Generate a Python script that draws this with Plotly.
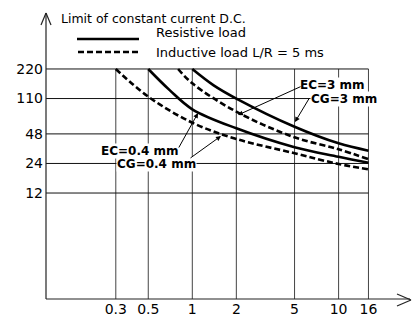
import plotly.graph_objects as go

# ---- data ----
x_ticks = [0.3, 0.5, 1, 2, 5, 10, 16]
x_tick_labels = ["0.3", "0.5", "1", "2", "5", "10", "16"]
y_ticks = [12, 24, 48, 110, 220]
y_tick_labels = ["12", "24", "48", "110", "220"]

# Resistive load (solid)
res_04_x = [0.5, 0.7, 1, 2, 5, 10, 16]
res_04_y = [220, 134, 85.5, 54.7, 35.1, 28.1, 24.4]
res_3_x = [1, 1.4, 2, 5, 10, 16]
res_3_y = [220, 150, 110, 56.8, 38.5, 32.4]
# Inductive load L/R = 5 ms (dashed)
ind_04_x = [0.3, 0.5, 1, 2, 5, 10, 16]
ind_04_y = [220, 115, 62.4, 42.6, 30.5, 23.7, 20.9]
ind_3_x = [0.8, 1, 2, 5, 10, 16]
ind_3_y = [220, 157, 80.8, 44.3, 33.5, 26.5]

FONT = "DejaVu Sans"
W, H = 414, 320
L, R, T, B = 46, 2, 13, 21
pw, ph = W - L - R, H - T - B
XPD, YPD = 146.3, 98.2  # pixels per decade
x_range = [-1, -1 + pw / XPD]
y_range = [0, ph / YPD]

def px(X):
    return (X - L) / pw

def py(Y):
    return (H - B - Y) / ph

fig = go.Figure()
line_w = 2.6
fig.add_trace(go.Scatter(x=res_04_x, y=res_04_y, mode="lines",
                         line=dict(color="black", width=line_w, shape="spline", smoothing=1.0),
                         name="Resistive load", showlegend=False))
fig.add_trace(go.Scatter(x=res_3_x, y=res_3_y, mode="lines",
                         line=dict(color="black", width=line_w, shape="spline", smoothing=1.0),
                         showlegend=False))
fig.add_trace(go.Scatter(x=ind_04_x, y=ind_04_y, mode="lines",
                         line=dict(color="black", width=line_w, shape="spline", smoothing=1.0, dash="6px,3px"),
                         name="Inductive load L/R = 5 ms", showlegend=False))
fig.add_trace(go.Scatter(x=ind_3_x, y=ind_3_y, mode="lines",
                         line=dict(color="black", width=line_w, shape="spline", smoothing=1.0, dash="6px,3px"),
                         showlegend=False))

shapes = []
# grid (within the box 0.1..16 x 1..220)
for xv in x_ticks:
    shapes.append(dict(type="line", xref="x", yref="y", x0=xv, x1=xv, y0=1, y1=max(y_ticks),
                       line=dict(color="#444", width=1), layer="below"))
for yv in y_ticks:
    shapes.append(dict(type="line", xref="x", yref="y", x0=0.1, x1=max(x_ticks), y0=yv, y1=yv,
                       line=dict(color="#111", width=1), layer="below"))
# axes with arrows
ax_line = dict(color="#222", width=1.2)
shapes += [
    dict(type="line", xref="paper", yref="paper", x0=0, x1=0, y0=0, y1=1, line=ax_line),
    dict(type="line", xref="paper", yref="paper", x0=px(41), x1=0, y0=py(25), y1=1, line=ax_line),
    dict(type="line", xref="paper", yref="paper", x0=px(51), x1=0, y0=py(25), y1=1, line=ax_line),
    dict(type="line", xref="paper", yref="paper", x0=0, x1=px(410), y0=0, y1=0, line=ax_line),
    dict(type="line", xref="paper", yref="paper", x0=px(397), x1=px(411), y0=py(294), y1=py(300), line=ax_line),
    dict(type="line", xref="paper", yref="paper", x0=px(397), x1=px(411), y0=py(306), y1=py(300), line=ax_line),
    # legend samples
    dict(type="line", xref="paper", yref="paper", x0=px(77), x1=px(139), y0=py(39), y1=py(39),
         line=dict(color="black", width=2.6)),
    dict(type="line", xref="paper", yref="paper", x0=px(78), x1=px(139), y0=py(52), y1=py(52),
         line=dict(color="black", width=2.6, dash="6px,3px")),
]

annotations = [
    dict(text="Limit of constant current D.C.", xref="paper", yref="paper", x=px(59), y=py(18),
         xanchor="left", yanchor="middle", showarrow=False, font=dict(family=FONT, size=12.5, color="black")),
    dict(text="Resistive load", xref="paper", yref="paper", x=px(154), y=py(33),
         xanchor="left", yanchor="middle", showarrow=False, font=dict(family=FONT, size=13, color="black")),
    dict(text="Inductive load L/R = 5 ms", xref="paper", yref="paper", x=px(154), y=py(52),
         xanchor="left", yanchor="middle", showarrow=False, font=dict(family=FONT, size=13, color="black")),
]
lab_font = dict(family=FONT, size=12, color="black")
for txt, cx, cy in [("<b>EC=3 mm</b>", 332, 85), ("<b>CG=3 mm</b>", 344, 98.5),
                    ("<b>EC=0.4 mm</b>", 140, 150.5), ("<b>CG=0.4 mm</b>", 156, 164)]:
    annotations.append(dict(text=txt, xref="paper", yref="paper", x=px(cx), y=py(cy),
                            xanchor="center", yanchor="middle", showarrow=False, font=lab_font,
                            bgcolor="white", borderpad=0))
# arrows: (tail X, tail Y) -> (head X, head Y)
for tx, ty, hx, hy in [(302, 86, 238, 115), (310, 97, 295, 122),
                       (178, 149, 198, 113), (189, 159, 221, 136)]:
    annotations.append(dict(text="", xref="paper", yref="paper", x=px(hx), y=py(hy),
                            ax=tx - hx, ay=ty - hy, axref="pixel", ayref="pixel",
                            showarrow=True, arrowhead=2, arrowsize=1, arrowwidth=1,
                            arrowcolor="black", standoff=0, startstandoff=0))

tick_font = dict(family=FONT, size=14, color="black")
fig.update_layout(
    width=W, height=H,
    margin=dict(l=L, r=R, t=T, b=B, pad=0),
    paper_bgcolor="white", plot_bgcolor="white",
    showlegend=False,
    shapes=shapes, annotations=annotations,
    xaxis=dict(type="log", range=x_range, tickvals=x_ticks, ticktext=x_tick_labels,
               showgrid=False, zeroline=False, showline=False, ticks="",
               tickfont=tick_font, ticklabelstandoff=0),
    yaxis=dict(type="log", range=y_range, tickvals=y_ticks, ticktext=y_tick_labels,
               showgrid=False, zeroline=False, showline=False, ticks="",
               tickfont=tick_font, ticklabelstandoff=2),
)
fig.write_html("out.html", config={"displayModeBar": False},
               post_script="document.body.style.margin='0';document.body.style.padding='0';")
